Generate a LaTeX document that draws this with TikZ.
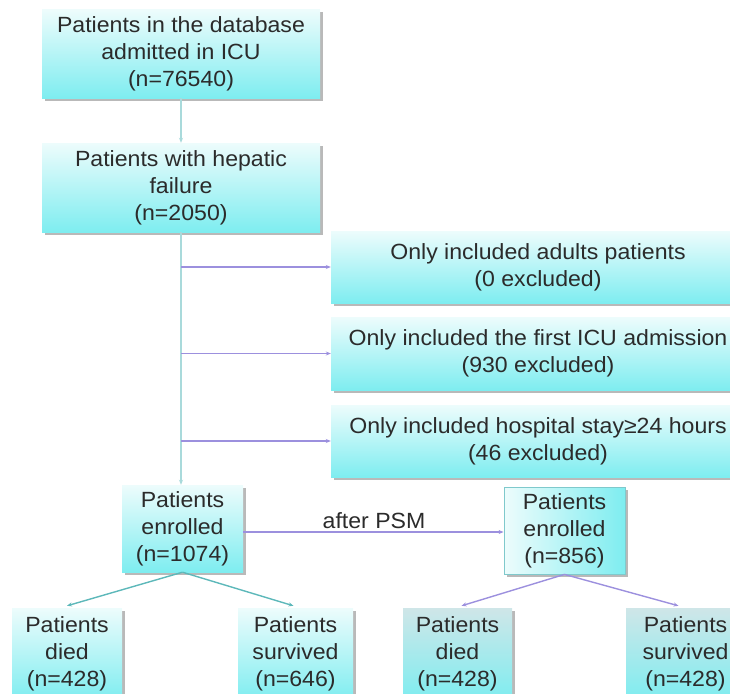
\documentclass[tikz,border=0pt]{standalone}
\usepackage{fontspec}
\setmainfont{Liberation Sans}[FakeStretch=1.05]
\usetikzlibrary{shadows,arrows.meta}
\definecolor{txt}{HTML}{2B2B2B}
\definecolor{ctop}{HTML}{EDFCFC}
\definecolor{cmid}{HTML}{D2F7F8}
\definecolor{cbot}{HTML}{7EEDF0}
\definecolor{gtop}{HTML}{CFE6E8}
\definecolor{gmid}{HTML}{C4EEF0}
\definecolor{vline}{HTML}{A9DADB}
\definecolor{purp}{HTML}{9C90DE}
\definecolor{tealc}{HTML}{5DB8BA}
\definecolor{bordc}{HTML}{7FC9CC}
\begin{document}
\begin{tikzpicture}[x=1pt,y=-1pt,
  base/.style={draw=none, text=txt, align=center, inner sep=0pt,
    font=\fontsize{22}{27}\selectfont,
    drop shadow={shadow xshift=2.5pt,shadow yshift=-2.5pt,fill=black!50,opacity=.55}},
  box/.style={base, top color=ctop, middle color=cmid, bottom color=cbot},
  hbox/.style={base, left color=ctop, right color=cbot},
  gbox/.style={base, top color=gtop, middle color=gmid, bottom color=cbot},
  tip/.style={-{Stealth[length=5pt,width=4pt]}},
  lab/.style={text=txt, font=\fontsize{22}{27}\selectfont, inner sep=0pt}
]
\useasboundingbox (0,0) rectangle (730,693);
\clip (0,0) rectangle (730,693);

% main column
\node[box, minimum width=278pt, minimum height=88pt] (b1) at (181,54)
  {Patients in the database\\admitted in ICU\\(n=76540)};
\node[box, minimum width=278pt, minimum height=89pt] (b2) at (181,187.5)
  {Patients with hepatic\\failure\\(n=2050)};

% exclusion boxes
\node[box, minimum width=414pt, minimum height=72pt] (ea) at (538,267)
  {Only included adults patients\\(0 excluded)};
\node[box, minimum width=414pt, minimum height=73pt] (eb) at (538,353.5)
  {Only included the first ICU admission\\(930 excluded)};
\node[box, minimum width=414pt, minimum height=72pt] (ec) at (538,441)
  {Only included hospital stay≥24 hours\\(46 excluded)};

% enrolled
\node[box, minimum width=121pt, minimum height=87pt] (en1) at (182.5,528.5)
  {Patients\\enrolled\\(n=1074)};
\node[hbox, draw=bordc, line width=0.8pt, minimum width=121pt, minimum height=87pt] (en2) at (564.5,530.5)
  {Patients\\enrolled\\(n=856)};

% outcomes
\node[box, minimum width=110pt, minimum height=92pt] (d1) at (67,654)
  {Patients\\died\\(n=428)};
\node[box, minimum width=115pt, minimum height=92pt] (s1) at (295.5,654)
  {Patients\\survived\\(n=646)};
\node[gbox, minimum width=109pt, minimum height=92pt] (d2) at (457.5,654)
  {Patients\\died\\(n=428)};
\node[gbox, minimum width=119pt, minimum height=92pt] (s2) at (685.5,654)
  {Patients\\survived\\(n=428)};

% connectors
\draw[vline, line width=1.4pt, tip] (b1.south) -- (b2.north);
\draw[vline, line width=1.4pt, tip] (b2.south) -- (b2.south |- en1.north);
\coordinate (ja) at (b2.south |- ea.west);
\coordinate (jb) at (b2.south |- eb.west);
\coordinate (jc) at (b2.south |- ec.west);
\draw[purp, line width=1.4pt, tip] (ja) -- (ea.west);
\draw[purp, line width=1.4pt, tip] (jb) -- (eb.west);
\draw[purp, line width=1.4pt, tip] (jc) -- (ec.west);

\coordinate (psm) at (en1.east |- 0,532);
\draw[purp, line width=1.4pt, tip] (psm) -- (psm -| en2.west);
\node[lab, anchor=base] (psml) at (374,528) {after PSM};

\draw[tealc, line width=1.4pt, tip] (en1.south) -- ([yshift=2pt]d1.north);
\draw[tealc, line width=1.4pt, tip] (en1.south) -- ([yshift=2pt,xshift=-2pt]s1.north);
\draw[purp, line width=1.4pt, tip] (en2.south) -- ([yshift=2pt,xshift=4pt]d2.north);
\draw[purp, line width=1.4pt, tip] (en2.south) -- ([yshift=2pt,xshift=-7pt]s2.north);
\end{tikzpicture}
\end{document}
